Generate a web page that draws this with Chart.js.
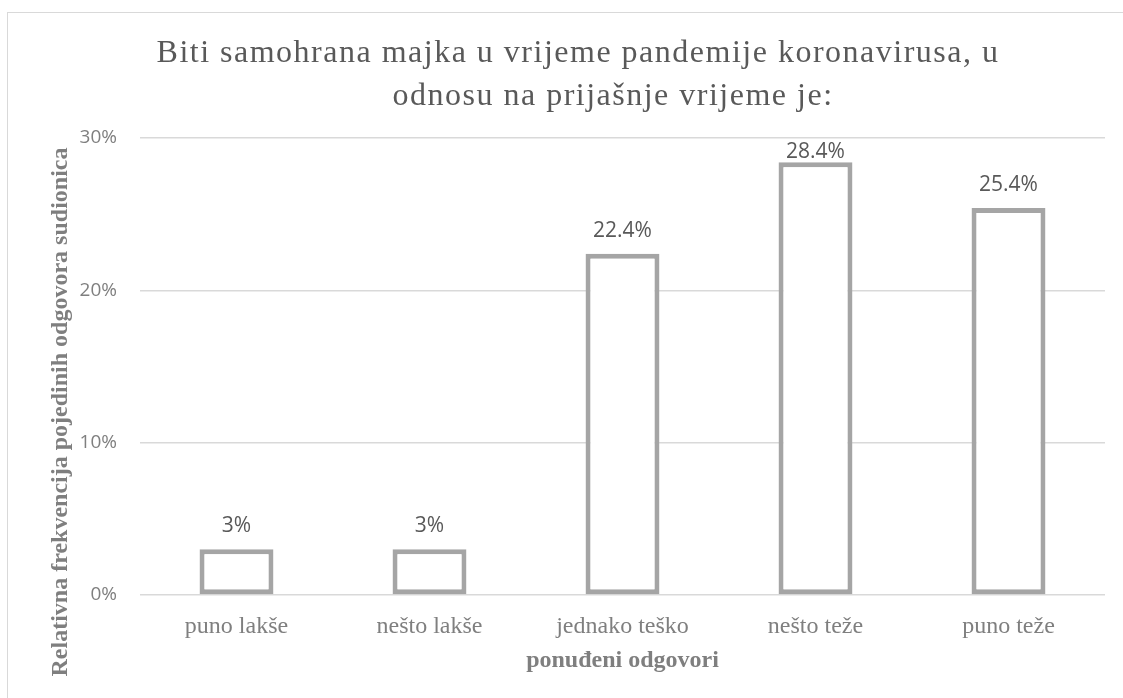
<!DOCTYPE html>
<html>
<head>
<meta charset="utf-8">
<script src="https://cdn.jsdelivr.net/npm/chart.js@4/dist/chart.umd.min.js"></script>
<style>
  html, body { margin: 0; padding: 0; background: #fff; }
  #wrap { width: 1123px; height: 698px; }
</style>
</head>
<body>
<div id="wrap"><canvas id="grafico"></canvas></div>
<script>
// podaci
var kategorije = ["puno lakše", "nešto lakše", "jednako teško", "nešto teže", "puno teže"];
var vrijednosti = [3, 3, 22.4, 28.4, 25.4];
var oznake = ["3%", "3%", "22.4%", "28.4%", "25.4%"];
var naslov = ["Biti samohrana majka u vrijeme pandemije koronavirusa, u", "odnosu na prijašnje vrijeme je:"];
var naslovY = "Relativna frekvencija pojedinih odgovora sudionica";
var naslovX = "ponuđeni odgovori";

var serif = "'Liberation Serif', 'Times New Roman', serif";
var sans = "'Open Sans', 'Liberation Sans', sans-serif";

// okvir, naslovi i oznake vrijednosti
var dodaci = {
    id: 'dodaci',
    beforeDraw: function(chart) {
        var ctx = chart.ctx;
        ctx.save();
        ctx.strokeStyle = "#d9d9d9";
        ctx.lineWidth = 1;
        ctx.strokeRect(7.5, 12.5, 1300, 1000);
        ctx.restore();
    },
    afterDraw: function(chart) {
        var ctx = chart.ctx;
        var ca = chart.chartArea;
        ctx.save();
        ctx.textAlign = "center";
        ctx.textBaseline = "alphabetic";

        ctx.fillStyle = "#595959";
        ctx.font = "32px " + serif;
        ctx.letterSpacing = "1.5px";
        ctx.fillText(naslov[0], 578, 62);
        ctx.fillText(naslov[1], 613, 105);
        ctx.letterSpacing = "0px";

        ctx.textBaseline = "middle";
        ctx.fillStyle = "#7f7f7f";
        ctx.font = "bold 24px " + serif;
        ctx.fillText(naslovX, (ca.left + ca.right) / 2, 661);

        ctx.save();
        ctx.translate(61, 412);
        ctx.rotate(-Math.PI / 2);
        ctx.fillText(naslovY, 0, 0);
        ctx.restore();

        ctx.fillStyle = "#595959";
        ctx.font = "21px " + sans;
        ctx.textBaseline = "alphabetic";
        var meta = chart.getDatasetMeta(0);
        meta.data.forEach(function(bar, i) {
            // Excel pomakne oznaku dolje ako ne stane iznad stupca
            var y = Math.max(bar.y - 17, ca.top + 20);
            ctx.fillText(oznake[i], bar.x, y);
        });
        ctx.restore();
    }
};

var ctx = document.getElementById('grafico').getContext('2d');
var chart = new Chart(ctx, {
    type: 'bar',
    data: {
        labels: kategorije,
        datasets: [{
            data: vrijednosti,
            backgroundColor: "#ffffff",
            borderColor: "#a5a5a5",
            borderWidth: 5,
            borderSkipped: false,
            categoryPercentage: 1,
            barPercentage: 0.383
        }]
    },
    options: {
        responsive: true,
        maintainAspectRatio: false,
        animation: false,
        layout: {
            padding: { top: 138, right: 18, left: 0, bottom: 0 }
        },
        plugins: {
            legend: { display: false },
            title: { display: false },
            tooltip: { enabled: false }
        },
        scales: {
            x: {
                grid: { display: false },
                border: { display: false },
                ticks: {
                    color: "#7f7f7f",
                    font: { family: serif, size: 24 },
                    padding: 9,
                    maxRotation: 0
                },
                afterFit: function(s) { s.height = 103; }
            },
            y: {
                min: 0,
                max: 30,
                grid: { color: "#d9d9d9", lineWidth: 1.5, drawTicks: false },
                border: { display: false },
                ticks: {
                    stepSize: 10,
                    color: "#7f7f7f",
                    font: { family: sans, size: 19 },
                    padding: 23,
                    callback: function(v) { return v + "%"; }
                },
                afterFit: function(s) { s.width = 140; }
            }
        }
    },
    plugins: [dodaci]
});
</script>
</body>
</html>
